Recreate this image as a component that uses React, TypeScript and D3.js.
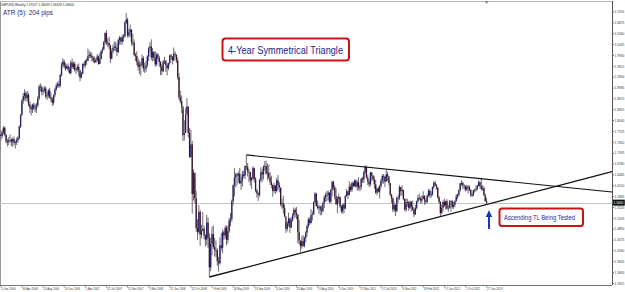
import React from 'react';
import * as d3 from 'd3';

const W = 625;
const H = 292;

// Weekly GBPUSD bars, week index 0 = week of 1 Jan 2006
const firstOpen = 1.72;
const closes = [
  // 2006
  1.7630, 1.7590, 1.7700, 1.7830, 1.7620, 1.7430, 1.7430, 1.7470, 1.7480, 1.7430, 1.7500, 1.7400, 1.7410,
  1.7470, 1.7540, 1.7870, 1.8210, 1.8620, 1.8750, 1.8840, 1.8690, 1.8790, 1.8510, 1.8420, 1.8370, 1.8500,
  1.8400, 1.8390, 1.8480, 1.8680, 1.9030, 1.9010, 1.8880, 1.8920, 1.8970, 1.8740, 1.8770, 1.8910, 1.8720,
  1.8660, 1.8560, 1.8780, 1.8950, 1.9050, 1.9100, 1.9050, 1.9360, 1.9660, 1.9750, 1.9620, 1.9550, 1.9620, 1.9520,
  // 2007
  1.9420, 1.9720, 1.9590, 1.9690, 1.9510, 1.9530, 1.9600, 1.9500, 1.9290, 1.9410, 1.9680, 1.9640,
  1.9780, 1.9770, 1.9910, 1.9950, 1.9920, 1.9860, 1.9780, 1.9740, 1.9800, 1.9900, 1.9680, 1.9820, 2.0050,
  2.0110, 2.0310, 2.0580, 2.0300, 2.0290, 2.0220, 1.9840, 2.0050, 2.0150, 2.0180, 2.0150, 2.0030, 2.0380, 2.0450,
  2.0330, 2.0450, 2.0490, 2.0880, 2.0970, 2.0510, 2.0600, 2.0680, 2.0310, 2.0300, 1.9950, 1.9910, 1.9750,
  // 2008
  1.9600, 1.9660, 1.9650, 1.9850, 1.9550, 1.9550, 1.9640, 1.9900, 2.0140, 2.0190, 1.9870, 2.0040, 1.9860,
  1.9670, 1.9950, 1.9860, 1.9740, 1.9610, 1.9470, 1.9750, 1.9760, 1.9650, 1.9560, 1.9710, 1.9930, 1.9890,
  1.9790, 1.9980, 1.9950, 1.9780, 1.9300, 1.8710, 1.8600, 1.8450, 1.7620, 1.7680, 1.8210, 1.8450, 1.7680,
  1.6980, 1.7350, 1.5910, 1.6530, 1.5780, 1.4920, 1.4810, 1.5390, 1.4730, 1.4850, 1.4900, 1.4710, 1.4590,
  // 2009
  1.5080, 1.4640, 1.3780, 1.4470, 1.4750, 1.4370, 1.4280, 1.4280, 1.3960, 1.3900, 1.4420, 1.4350, 1.4800,
  1.4710, 1.4930, 1.4580, 1.4840, 1.5140, 1.5190, 1.5700, 1.6160, 1.6390, 1.6480, 1.6450, 1.6500, 1.6220,
  1.6290, 1.6480, 1.6440, 1.6720, 1.6690, 1.6560, 1.6550, 1.6310, 1.6370, 1.6660, 1.6340, 1.6010, 1.5930,
  1.5890, 1.6320, 1.6540, 1.6480, 1.6710, 1.6720, 1.6510, 1.6530, 1.6390, 1.6260, 1.6170, 1.6000, 1.6150,
  // 2010
  1.6000, 1.6310, 1.6170, 1.6100, 1.5610, 1.5640, 1.5510, 1.5260, 1.4900, 1.5060, 1.5200, 1.4940, 1.5150,
  1.5290, 1.5450, 1.5370, 1.5310, 1.4800, 1.4560, 1.4400, 1.4540, 1.4410, 1.4640, 1.4790, 1.4980, 1.5170,
  1.5070, 1.5300, 1.5320, 1.5680, 1.5920, 1.5560, 1.5510, 1.5540, 1.5460, 1.5420, 1.5640, 1.5810, 1.5880,
  1.5880, 1.5950, 1.5690, 1.6040, 1.6260, 1.6100, 1.5840, 1.5610, 1.5770, 1.5820, 1.5560, 1.5410, 1.5600,
  // 2011
  1.5490, 1.5850, 1.5990, 1.5880, 1.6120, 1.6030, 1.6230, 1.6140, 1.6300, 1.6130, 1.6250, 1.6100, 1.6120,
  1.6350, 1.6330, 1.6540, 1.6700, 1.6380, 1.6270, 1.6190, 1.6530, 1.6450, 1.6330, 1.6190, 1.5950, 1.6070,
  1.5980, 1.6140, 1.6300, 1.6430, 1.6410, 1.6270, 1.6480, 1.6430, 1.6230, 1.5890, 1.5780, 1.5460, 1.5590,
  1.5420, 1.5800, 1.5800, 1.6110, 1.5990, 1.6030, 1.5770, 1.5460, 1.5670, 1.5660, 1.5510, 1.5680, 1.5540,
  // 2012
  1.5460, 1.5320, 1.5510, 1.5700, 1.5800, 1.5780, 1.5720, 1.5770, 1.5850, 1.5720, 1.5680, 1.5860, 1.6000,
  1.5870, 1.5900, 1.6110, 1.6240, 1.6170, 1.6100, 1.5810, 1.5680, 1.5360, 1.5510, 1.5680, 1.5580, 1.5700,
  1.5490, 1.5510, 1.5680, 1.5700, 1.5540, 1.5600, 1.5700, 1.5840, 1.5890, 1.6020, 1.6220, 1.6230, 1.6160,
  1.6150, 1.6040, 1.6120, 1.6120, 1.6030, 1.5880, 1.5870, 1.6020, 1.6030, 1.6060, 1.6140, 1.6260, 1.6140, 1.6060,
  // 2013
  1.6080, 1.5870, 1.57027, 1.5660,
];
const highs = [
  // 2006
  1.7700, 1.7750, 1.7780, 1.7880, 1.7870, 1.7650, 1.7510, 1.7560, 1.7640, 1.7530, 1.7550, 1.7580, 1.7460,
  1.7550, 1.7590, 1.7900, 1.8230, 1.8660, 1.8840, 1.8950, 1.8890, 1.8900, 1.8850, 1.8600, 1.8500, 1.8530,
  1.8560, 1.8530, 1.8550, 1.8750, 1.9080, 1.9120, 1.9060, 1.9000, 1.9040, 1.9030, 1.8860, 1.8960, 1.8990,
  1.8850, 1.8720, 1.8800, 1.8990, 1.9120, 1.9160, 1.9200, 1.9400, 1.9720, 1.9850, 1.9810, 1.9720, 1.9680, 1.9700,
  // 2007
  1.9600, 1.9780, 1.9840, 1.9750, 1.9750, 1.9580, 1.9670, 1.9700, 1.9520, 1.9450, 1.9700, 1.9740,
  1.9800, 1.9850, 2.0130, 2.0070, 2.0030, 2.0010, 1.9910, 1.9900, 1.9860, 1.9970, 1.9930, 2.0000, 2.0080,
  2.0170, 2.0350, 2.0600, 2.0660, 2.0420, 2.0470, 2.0250, 2.0130, 2.0250, 2.0330, 2.0330, 2.0270, 2.0420, 2.0500,
  2.0470, 2.0530, 2.0550, 2.0930, 2.1161, 2.1020, 2.0710, 2.0830, 2.0690, 2.0560, 2.0400, 2.0000, 2.0050,
  // 2008
  1.9850, 1.9780, 1.9730, 1.9960, 1.9910, 1.9720, 1.9770, 1.9940, 2.0180, 2.0310, 2.0398, 2.0150, 2.0010,
  2.0050, 2.0000, 2.0000, 1.9920, 1.9770, 1.9680, 1.9800, 1.9890, 1.9800, 1.9700, 1.9720, 1.9960, 1.9970,
  1.9920, 2.0160, 2.0050, 1.9960, 1.9870, 1.9420, 1.8900, 1.8770, 1.8350, 1.8050, 1.8410, 1.8690, 1.8420,
  1.7830, 1.7770, 1.7450, 1.6620, 1.6400, 1.6000, 1.5180, 1.5590, 1.5450, 1.5020, 1.5390, 1.4990, 1.4740,
  // 2009
  1.5310, 1.5230, 1.4770, 1.4650, 1.4960, 1.5000, 1.4640, 1.4560, 1.4340, 1.4090, 1.4650, 1.4780, 1.4880,
  1.4850, 1.5000, 1.4990, 1.4990, 1.5220, 1.5360, 1.5750, 1.6190, 1.6660, 1.6530, 1.6520, 1.6560, 1.6670,
  1.6390, 1.6580, 1.6590, 1.6740, 1.7043, 1.6810, 1.6640, 1.6470, 1.6410, 1.6720, 1.6680, 1.6400, 1.6070,
  1.5960, 1.6350, 1.6690, 1.6640, 1.6740, 1.6860, 1.6880, 1.6790, 1.6760, 1.6540, 1.6440, 1.6190, 1.6240,
  // 2010
  1.6180, 1.6380, 1.6460, 1.6250, 1.6090, 1.5770, 1.5860, 1.5610, 1.5100, 1.5120, 1.5370, 1.5220, 1.5230,
  1.5350, 1.5520, 1.5510, 1.5530, 1.5320, 1.5160, 1.4550, 1.4680, 1.4720, 1.4680, 1.4830, 1.5030, 1.5230,
  1.5230, 1.5470, 1.5410, 1.5690, 1.5970, 1.5940, 1.5720, 1.5600, 1.5580, 1.5570, 1.5680, 1.5870, 1.5950,
  1.6000, 1.6010, 1.5960, 1.6050, 1.6300, 1.6290, 1.6160, 1.6070, 1.5850, 1.5920, 1.5840, 1.5580, 1.5620,
  // 2011
  1.5650, 1.5880, 1.6060, 1.6000, 1.6280, 1.6190, 1.6270, 1.6280, 1.6330, 1.6340, 1.6300, 1.6400, 1.6170,
  1.6380, 1.6410, 1.6580, 1.6746, 1.6720, 1.6460, 1.6330, 1.6560, 1.6550, 1.6450, 1.6420, 1.6320, 1.6090,
  1.6120, 1.6180, 1.6350, 1.6480, 1.6490, 1.6440, 1.6620, 1.6560, 1.6360, 1.6230, 1.5910, 1.5820, 1.5690,
  1.5620, 1.5830, 1.5890, 1.6170, 1.6120, 1.6160, 1.5980, 1.5780, 1.5780, 1.5770, 1.5710, 1.5720, 1.5710,
  // 2012
  1.5720, 1.5490, 1.5600, 1.5720, 1.5880, 1.5930, 1.5840, 1.5880, 1.5990, 1.5880, 1.5780, 1.5900, 1.6060,
  1.6050, 1.5990, 1.6130, 1.6270, 1.6300, 1.6200, 1.6110, 1.5860, 1.5700, 1.5600, 1.5730, 1.5780, 1.5720,
  1.5760, 1.5590, 1.5740, 1.5730, 1.5730, 1.5680, 1.5730, 1.5910, 1.5920, 1.6050, 1.6230, 1.6309, 1.6270,
  1.6200, 1.6140, 1.6180, 1.6170, 1.6160, 1.6050, 1.5950, 1.6030, 1.6070, 1.6170, 1.6180, 1.6310, 1.6250, 1.6380,
  // 2013
  1.6170, 1.6130, 1.5920, 1.58039,
];
const lows = [
  // 2006
  1.7180, 1.7460, 1.7520, 1.7640, 1.7580, 1.7380, 1.7290, 1.7330, 1.7390, 1.7300, 1.7280, 1.7330, 1.7230,
  1.7330, 1.7400, 1.7500, 1.7820, 1.8180, 1.8530, 1.8620, 1.8600, 1.8590, 1.8450, 1.8260, 1.8190, 1.8260,
  1.8330, 1.8280, 1.8260, 1.8430, 1.8640, 1.8880, 1.8780, 1.8770, 1.8850, 1.8680, 1.8640, 1.8700, 1.8680,
  1.8580, 1.8460, 1.8500, 1.8720, 1.8900, 1.8990, 1.8990, 1.9000, 1.9320, 1.9580, 1.9550, 1.9480, 1.9530, 1.9460,
  // 2007
  1.9400, 1.9370, 1.9540, 1.9530, 1.9460, 1.9390, 1.9460, 1.9330, 1.9180, 1.9260, 1.9380, 1.9550,
  1.9580, 1.9660, 1.9780, 1.9850, 1.9860, 1.9760, 1.9720, 1.9700, 1.9710, 1.9750, 1.9660, 1.9690, 1.9820,
  1.9980, 2.0090, 2.0250, 2.0230, 2.0170, 2.0110, 1.9710, 1.9810, 1.9990, 2.0070, 2.0050, 1.9910, 2.0000, 2.0240,
  2.0230, 2.0250, 2.0330, 2.0440, 2.0840, 2.0450, 2.0450, 2.0470, 2.0210, 2.0220, 1.9900, 1.9770, 1.9650,
  // 2008
  1.9490, 1.9390, 1.9340, 1.9590, 1.9460, 1.9420, 1.9450, 1.9590, 1.9760, 2.0050, 1.9790, 1.9760, 1.9770,
  1.9600, 1.9620, 1.9800, 1.9600, 1.9360, 1.9360, 1.9450, 1.9680, 1.9450, 1.9350, 1.9500, 1.9660, 1.9800,
  1.9670, 1.9760, 1.9880, 1.9710, 1.9230, 1.8650, 1.8540, 1.8260, 1.7450, 1.7460, 1.7750, 1.8280, 1.7550,
  1.6960, 1.6970, 1.5340, 1.5720, 1.5640, 1.4820, 1.4580, 1.4760, 1.4410, 1.4620, 1.4840, 1.4600, 1.4380,
  // 2009
  1.4430, 1.4350, 1.3503, 1.3670, 1.4130, 1.4320, 1.4100, 1.4080, 1.3820, 1.3657, 1.3870, 1.4270, 1.4190,
  1.4580, 1.4610, 1.4420, 1.4480, 1.4780, 1.4970, 1.5100, 1.5580, 1.5840, 1.6110, 1.6170, 1.6240, 1.6200,
  1.6030, 1.6120, 1.6370, 1.6340, 1.6610, 1.6420, 1.6250, 1.6150, 1.6060, 1.6320, 1.6240, 1.5960, 1.5810,
  1.5710, 1.5830, 1.6260, 1.6250, 1.6330, 1.6590, 1.6470, 1.6310, 1.6340, 1.6170, 1.6080, 1.5830, 1.5950,
  // 2010
  1.5910, 1.5960, 1.6030, 1.5960, 1.5550, 1.5480, 1.5340, 1.5230, 1.4780, 1.4830, 1.4970, 1.4780, 1.4930,
  1.5110, 1.5200, 1.5230, 1.5180, 1.4480, 1.4450, 1.4229, 1.4320, 1.4370, 1.4360, 1.4510, 1.4680, 1.4920,
  1.5010, 1.5050, 1.5140, 1.5310, 1.5650, 1.5540, 1.5460, 1.5340, 1.5290, 1.5300, 1.5370, 1.5500, 1.5680,
  1.5700, 1.5720, 1.5650, 1.5640, 1.5850, 1.6020, 1.5750, 1.5600, 1.5350, 1.5650, 1.5500, 1.5350, 1.5340,
  // 2011
  1.5350, 1.5470, 1.5830, 1.5760, 1.5870, 1.5970, 1.5970, 1.6100, 1.6120, 1.6090, 1.6000, 1.6030, 1.5990,
  1.6030, 1.6230, 1.6230, 1.6480, 1.6360, 1.6170, 1.6110, 1.6130, 1.6300, 1.6280, 1.6060, 1.5910, 1.5870,
  1.5950, 1.5780, 1.6080, 1.6210, 1.6210, 1.6110, 1.6270, 1.6290, 1.6160, 1.5850, 1.5650, 1.5390, 1.5390,
  1.5272, 1.5380, 1.5660, 1.5740, 1.5860, 1.5860, 1.5730, 1.5420, 1.5390, 1.5540, 1.5420, 1.5470, 1.5410,
  // 2012
  1.5420, 1.5230, 1.5300, 1.5460, 1.5660, 1.5730, 1.5630, 1.5640, 1.5770, 1.5600, 1.5610, 1.5650, 1.5830,
  1.5800, 1.5800, 1.5860, 1.6050, 1.6140, 1.6030, 1.5780, 1.5630, 1.5270, 1.5320, 1.5410, 1.5530, 1.5460,
  1.5460, 1.5390, 1.5490, 1.5400, 1.5490, 1.5480, 1.5530, 1.5690, 1.5760, 1.5830, 1.5980, 1.6150, 1.6060,
  1.6040, 1.5980, 1.6000, 1.5920, 1.5990, 1.5830, 1.5820, 1.5860, 1.5950, 1.5980, 1.6020, 1.6130, 1.6080, 1.6010,
  // 2013
  1.6000, 1.5860, 1.5690, 1.56318,
];

const yTickValues = [
  2.1190, 2.0875, 2.0560, 2.0245, 1.9930, 1.9615, 1.9300, 1.8985, 1.8670, 1.8355, 1.8040, 1.7725, 1.7410,
  1.7095, 1.6780, 1.6465, 1.6150, 1.5835, 1.5520, 1.5205, 1.4890, 1.4575, 1.4260, 1.3945, 1.3630, 1.3315,
];
const xTickLabels = [
  '5 Jan 2006', '30 Apr 2006', '20 Aug 2006', '10 Dec 2006', '1 Apr 2007', '22 Jul 2007', '11 Nov 2007',
  '2 Mar 2008', '22 Jun 2008', '12 Oct 2008', '1 Feb 2009', '24 May 2009', '13 Sep 2009', '3 Jan 2010',
  '25 Apr 2010', '15 Aug 2010', '5 Dec 2010', '27 Mar 2011', '17 Jul 2011', '6 Nov 2011', '26 Feb 2012',
  '17 Jun 2012', '7 Oct 2012', '27 Jan 2013',
];
const xTickIndex = [0, 17, 33, 49, 65, 81, 97, 113, 129, 145, 161, 177, 193, 209, 225, 241, 257, 273, 289, 305, 321, 337, 353, 369];

const topLine = [{ i: 187, p: 1.7043 }, { i: 464, p: 1.5968 }];
const bottomLine = [{ i: 159, p: 1.3503 }, { i: 464, p: 1.6557 }];

const titleText = 'GBPUSD,Weekly  1.57027 1.58039 1.56318 1.56600';
const atrText = 'ATR (5): 204 pips';
const note1 = '4-Year Symmetrical Triangle';
const note2 = 'Ascending TL Being Tested';

export default function App() {
  const plotRight = 612;
  const plotBottom = 285;
  const x = d3.scaleLinear().domain([0, 464]).range([-0.5, -0.5 + 464 * 1.32]);
  const y = d3.scaleLinear().domain([1.3503, 2.1161]).range([277, 13]);

  const bars = closes.map((c, i) => {
    const o = i === 0 ? firstOpen : closes[i - 1];
    return { i, o, h: highs[i], l: lows[i], c };
  });
  const last = bars[bars.length - 1];
  const line = d3.line<{ i: number; p: number }>().x((d) => x(d.i)).y((d) => y(d.p));
  const lastX = x(last.i);

  return (
    <svg width={W} height={H} style={{ position: 'absolute', left: 0, top: 0, background: '#fff' }}
      fontFamily="'Liberation Sans', Arial, sans-serif">
      <rect x={0} y={0} width={W} height={H} fill="#fff" />
      {/* frame */}
      <line x1={0.5} y1={1} x2={0.5} y2={plotBottom} stroke="#9a9a9a" strokeWidth={1} />
      <line x1={0} y1={1.5} x2={plotRight} y2={1.5} stroke="#b8b8b8" strokeWidth={1} />
      <path d={`M${lastX - 2},1 L${lastX + 2},1 L${lastX},4 Z`} fill="#888" />
      {/* current price line */}
      <line x1={0} x2={plotRight} y1={Math.round(y(last.c)) + 0.5} y2={Math.round(y(last.c)) + 0.5} stroke="#c4c4c4" strokeWidth={1} />
      {/* candles */}
      <g>
        {bars.map((b) => {
          const cx = x(b.i);
          const bull = b.c >= b.o;
          const top = y(Math.max(b.o, b.c));
          const hgt = Math.max(0.8, Math.abs(y(b.o) - y(b.c)));
          return (
            <g key={b.i}>
              <line x1={cx} x2={cx} y1={y(b.h)} y2={y(b.l)} stroke="#6f6878" strokeWidth={1} />
              <rect x={cx - 0.65} width={1.3} y={top} height={hgt} fill={bull ? '#22206a' : '#3c1428'} />
            </g>
          );
        })}
      </g>
      {/* trend lines */}
      <path d={line(topLine) || ''} stroke="#111" strokeWidth={1.2} fill="none" />
      <path d={line(bottomLine) || ''} stroke="#111" strokeWidth={1.3} fill="none" />
      {/* axes */}
      <line x1={plotRight + 0.5} x2={plotRight + 0.5} y1={1} y2={plotBottom} stroke="#555" strokeWidth={1} />
      <line x1={0} x2={plotRight} y1={plotBottom + 0.5} y2={plotBottom + 0.5} stroke="#777" strokeWidth={1} />
      {yTickValues.map((v) => (
        <g key={v}>
          <line x1={plotRight} x2={plotRight + 2} y1={y(v)} y2={y(v)} stroke="#555" strokeWidth={0.8} />
          <text x={plotRight + 2.6} y={y(v) + 1.3} fontSize={3.2} fill="#333">{v.toFixed(4)}</text>
        </g>
      ))}
      <rect x={plotRight + 1} y={y(last.c) - 3} width={11.8} height={6} fill="#111" />
      <text x={plotRight + 1.6} y={y(last.c) + 1.3} fontSize={3.2} fill="#fff">{last.c.toFixed(4)}</text>
      {xTickLabels.map((t, k) => {
        const tx = Math.max(x(xTickIndex[k]), 1);
        return (
          <g key={t}>
            <line x1={tx} x2={tx} y1={plotBottom} y2={plotBottom + 2.5} stroke="#777" strokeWidth={0.8} />
            <text x={tx + 0.5} y={plotBottom + 5.2} fontSize={4} fill="#333" textLength={t.length * 1.4} lengthAdjust="spacingAndGlyphs">{t}</text>
          </g>
        );
      })}
      {/* header texts */}
      <text x={1} y={5.5} fontSize={3.8} fill="#222" textLength={73} lengthAdjust="spacingAndGlyphs">{titleText}</text>
      <text x={3} y={14.8} fontSize={7.6} fill="#1d2a7e" textLength={50} lengthAdjust="spacingAndGlyphs">{atrText}</text>
      {/* annotation 1 */}
      <rect x={222.5} y={38.5} width={126.5} height={22} rx={3} fill="#fff" stroke="#c81414" strokeWidth={2} />
      <text x={228} y={53.5} fontSize={10} fill="#1c1c8c" textLength={115} lengthAdjust="spacingAndGlyphs">{note1}</text>
      {/* annotation 2 */}
      <rect x={499.5} y={208.5} width={83.5} height={17.5} rx={2.5} fill="#fff" stroke="#c81414" strokeWidth={2} />
      <text x={504} y={219.5} fontSize={7} fill="#1c2c9c" textLength={71} lengthAdjust="spacingAndGlyphs">{note2}</text>
      {/* arrow */}
      <path d={`M${lastX + 2.4},210 L${lastX + 5.6},217 L${lastX + 3.4},217 L${lastX + 3.4},229 L${lastX + 1.4},229 L${lastX + 1.4},217 L${lastX - 0.8},217 Z`} fill="#1a36b0" />
    </svg>
  );
}
